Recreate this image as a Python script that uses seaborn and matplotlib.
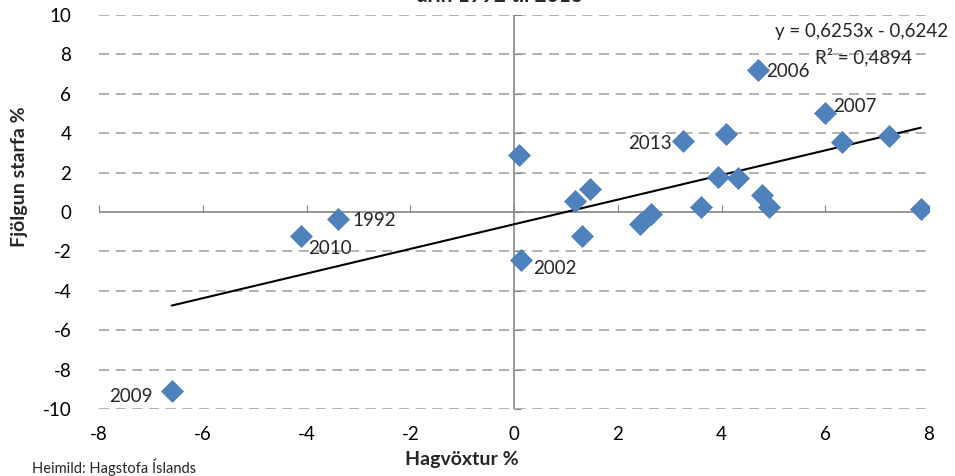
import numpy as np
import pandas as pd
import seaborn as sns
import matplotlib
matplotlib.use("Agg")
import matplotlib.pyplot as plt

# Hagvöxtur (x) og fjölgun starfa (y), %
hagvoxtur = [-6.6, -4.1, -3.4, 0.1, 0.13, 1.18, 1.46, 1.31, 2.43, 2.64, 3.26, 3.6,
             3.93, 4.08, 4.32, 4.7, 4.78, 4.91, 5.99, 6.32, 7.23, 7.84]
fjolgun = [-9.1, -1.2, -0.35, 2.88, -2.44, 0.56, 1.17, -1.22, -0.6, -0.1, 3.62, 0.27,
           1.8, 3.95, 1.7, 7.2, 0.84, 0.25, 5.0, 3.55, 3.87, 0.14]
merki = ["2009", "2010", "1992", "", "2002", "", "", "", "", "", "2013", "",
         "", "", "", "2006", "", "", "2007", "", "", ""]

# trendline coefficients shown in chart
halli = 0.6253
skurdpunktur = -0.6242
r2 = 0.4894

xticks = [-8, -6, -4, -2, 0, 2, 4, 6, 8]
yticks = [-10, -8, -6, -4, -2, 0, 2, 4, 6, 8, 10]

df = pd.DataFrame({"x": hagvoxtur, "y": fjolgun, "ar": merki})

sns.set_style("white")
plt.rcParams['font.family'] = ['Lato', 'DejaVu Sans']
plt.rcParams['axes.unicode_minus'] = False

fig = plt.figure(figsize=(9.55, 4.76), dpi=100)
ax = fig.add_axes([0.1037, 0.1408, 0.8691, 0.8277])

ax.set_xlim(-8, 8)
ax.set_ylim(-10, 10)

# dashed horizontal grid
for v in yticks:
    if v != 0:
        ax.axhline(v, color="#a6a6a6", lw=1.2, ls=(0, (6, 4)), zorder=0)
ax.axhline(0, color="#868686", lw=1.2, zorder=1)
ax.axvline(0, color="#868686", lw=1.2, zorder=1)

# trendline over data range
xl = np.array([min(hagvoxtur), max(hagvoxtur)])
sns.lineplot(x=xl, y=halli * xl + skurdpunktur, color="black", lw=1.5, ax=ax, zorder=2)

sns.scatterplot(data=df, x="x", y="y", marker="D", s=125, color="#4f81bd",
                edgecolor="#4a7ebb", linewidth=0.5, ax=ax, zorder=3)

offsets = {"2009": (-14, -4, "right"), "2010": (5, -9, "left"), "1992": (11, -1, "left"),
           "2002": (9, -6, "left"), "2013": (-8, -2, "right"), "2006": (6, -1, "left"),
           "2007": (6, 5, "left")}
for _, r in df.iterrows():
    if r["ar"]:
        dx, dy, ha = offsets[r["ar"]]
        ax.annotate(r["ar"], (r["x"], r["y"]), xytext=(dx, dy), textcoords="offset points",
                    ha=ha, va="center", fontsize=13.5, zorder=4)

# tick labels at the edges, axis lines cross at zero
ax.set_xticks(xticks)
ax.set_yticks(yticks)
ax.tick_params(length=0, labelsize=13.5, colors="black")
ax.tick_params(axis="y", pad=20)
ax.tick_params(axis="x", pad=12)
for s in ax.spines.values():
    s.set_visible(False)
ax.set_xlabel("")
ax.set_ylabel("")

sx = ax.secondary_xaxis(0.5)
sx.set_xticks(xticks)
sx.tick_params(direction="out", length=5, color="#868686", labelbottom=False, labeltop=False)
for s in sx.spines.values():
    s.set_visible(False)
sy = ax.secondary_yaxis(0.5)
sy.set_yticks(yticks)
sy.tick_params(direction="out", length=5, color="#868686", labelleft=False, labelright=False)
for s in sy.spines.values():
    s.set_visible(False)

fig.text(948 / 955, 1 - 32 / 476, "y = 0,6253x - 0,6242", ha="right", va="center", fontsize=13.5)
fig.text(912 / 955, 1 - 57 / 476, "R² = {}".format(str(r2).replace(".", ",")),
         ha="right", va="center", fontsize=13.5)

fig.text(20 / 955, 1 - 177 / 476, "Fjölgun starfa %", rotation=90, ha="center", va="center",
         fontsize=14, fontweight="bold")
fig.text(462 / 955, 1 - 459 / 476, "Hagvöxtur %", ha="center", va="center",
         fontsize=14, fontweight="bold")
fig.text(32 / 955, 1 - 467 / 476, "Heimild: Hagstofa Íslands", ha="left", va="center",
         fontsize=10.5)
fig.text(500 / 955, 1 - 2 / 476, "árin 1992 til 2013", ha="center", va="baseline",
         fontsize=15, fontweight="bold")

fig.savefig("out.png", dpi=100)
